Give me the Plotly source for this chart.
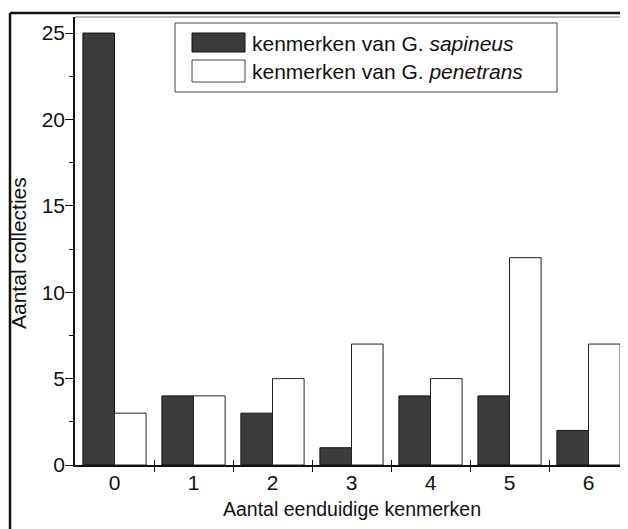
import plotly.graph_objects as go

categories = [0, 1, 2, 3, 4, 5, 6]
sapineus = [25, 4, 3, 1, 4, 4, 2]
penetrans = [3, 4, 5, 7, 5, 12, 7]
y_ticks = [0, 5, 10, 15, 20, 25]
x_boundaries = [0.5, 1.5, 2.5, 3.5, 4.5, 5.5]
name_sap = "kenmerken van G. <i>sapineus</i>"
name_pen = "kenmerken van G. <i>penetrans</i>"

FONT = "Liberation Sans, Arial, sans-serif"
DARK = "#3b3b3b"

fig = go.Figure()
fig.add_trace(go.Bar(x=categories, y=sapineus, name=name_sap,
                     marker=dict(color=DARK, line=dict(color="#111111", width=1)),
                     showlegend=False))
fig.add_trace(go.Bar(x=categories, y=penetrans, name=name_pen,
                     marker=dict(color="white", line=dict(color="#222222", width=1)),
                     showlegend=False))
# helper invisible trace for second x axis (inside ticks)
fig.add_trace(go.Scatter(x=[None], y=[None], xaxis="x2", showlegend=False))

# the page body has an 8 px margin: reference pixel (X, Y) -> figure pixel (X-8, Y-8)
OFF = 8
W, H = 628 - OFF, 529 - OFF
L, T = 75 - OFF, 17 - OFF
R = 0
B = H - (465 - OFF)
pw, ph = W - L - R, H - T - B
def px(x):
    return (x - OFF - L) / pw
def py(y):
    return (H - B - (y - OFF)) / ph

fig.update_layout(
    template="none",
    width=W, height=H,
    margin=dict(l=L, r=R, t=T, b=B, pad=0, autoexpand=False),
    paper_bgcolor="white", plot_bgcolor="white",
    barmode="group", bargap=0.2, bargroupgap=0,
    font=dict(family=FONT, size=21, color="#111111"),
    xaxis=dict(range=[-0.5, 6.5], tickmode="array", tickvals=categories,
               ticktext=[str(c) for c in categories], ticks="", showgrid=False,
               zeroline=False, showline=True, linecolor="#111111", linewidth=1.5,
               automargin=False, ticklabelstandoff=-2,
               minor=dict(tickmode="array", tickvals=x_boundaries, ticks="outside",
                          ticklen=5, tickcolor="#111111", tickwidth=1, showgrid=False)),
    xaxis2=dict(range=[-0.5, 6.5], overlaying="x", anchor="y", side="bottom",
                tickmode="array", tickvals=x_boundaries, ticks="inside", ticklen=5,
                tickcolor="#111111", showticklabels=False, showgrid=False,
                zeroline=False, showline=False, automargin=False),
    yaxis=dict(range=[0, 25.93], tickmode="array", tickvals=y_ticks, ticks="outside",
               ticklen=8, tickcolor="#111111", tickwidth=1, showgrid=False,
               zeroline=False, showline=True, linecolor="#111111", linewidth=1.5,
               automargin=False, ticklabelstandoff=-4,
               minor=dict(dtick=2.5, tick0=0, ticks="outside", ticklen=4,
                          tickcolor="#111111", showgrid=False)),
    showlegend=False,
)

shapes = [
    # outer frame
    dict(type="line", xref="paper", yref="paper", x0=px(10), x1=px(628), y0=py(13), y1=py(13),
         line=dict(color="#111111", width=2.5)),
    dict(type="line", xref="paper", yref="paper", x0=px(10), x1=px(10), y0=py(13), y1=py(529),
         line=dict(color="#111111", width=2.5)),
    # top frame of plot area
    dict(type="line", xref="paper", yref="paper", x0=0, x1=1, y0=1, y1=1,
         line=dict(color="#777777", width=1)),
    # legend box
    dict(type="rect", xref="paper", yref="paper", x0=px(175), x1=px(557), y0=py(92), y1=py(23),
         line=dict(color="#444444", width=1), fillcolor="white"),
    dict(type="rect", xref="paper", yref="paper", x0=px(192), x1=px(245), y0=py(52), y1=py(33),
         line=dict(color="#111111", width=1), fillcolor=DARK),
    dict(type="rect", xref="paper", yref="paper", x0=px(192), x1=px(245), y0=py(82), y1=py(60),
         line=dict(color="#444444", width=1), fillcolor="white"),
]
fig.update_layout(shapes=shapes)

annotations = [
    dict(text=name_sap, xref="paper", yref="paper", x=px(250), y=py(43),
         xanchor="left", yanchor="middle", showarrow=False, font=dict(size=21)),
    dict(text=name_pen, xref="paper", yref="paper", x=px(250), y=py(71),
         xanchor="left", yanchor="middle", showarrow=False, font=dict(size=21)),
    dict(text="Aantal collecties", xref="paper", yref="paper", x=px(18), y=py(253),
         xanchor="center", yanchor="middle", textangle=-90, showarrow=False,
         font=dict(size=21)),
    dict(text="Aantal eenduidige kenmerken", xref="paper", yref="paper", x=px(352), y=py(509),
         xanchor="center", yanchor="middle", showarrow=False, font=dict(size=19.5)),
]
fig.update_layout(annotations=annotations)

fig.write_html("out.html")
